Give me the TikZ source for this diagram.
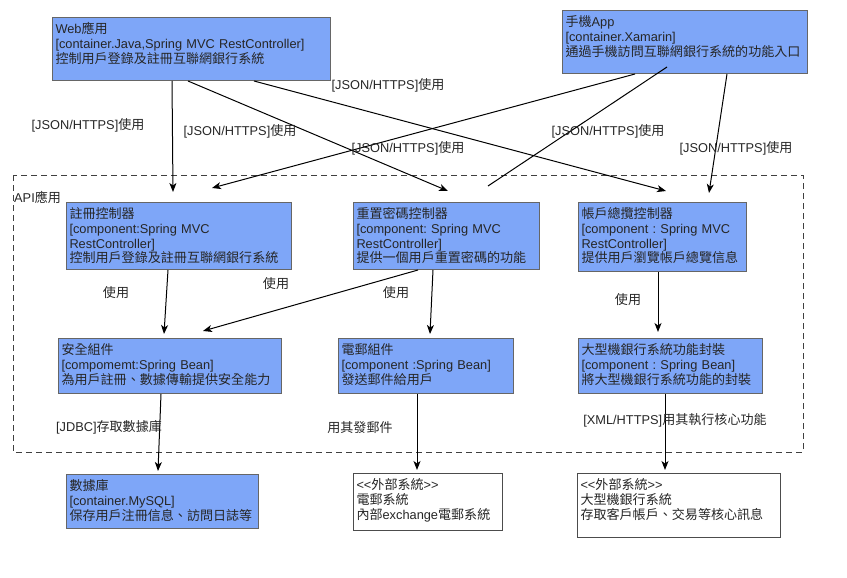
\documentclass[tikz,border=0pt]{standalone}
\usepackage{fontspec}
\setmainfont{Liberation Sans}
\newfontfamily\cjk[Scale=1.02]{Noto Sans CJK TC}
\usetikzlibrary{arrows.meta}
\frenchspacing
\newcommand{\zh}[1]{{\cjk #1}}
\definecolor{compblue}{RGB}{126,166,248}
\definecolor{boxgray}{RGB}{102,102,102}

\tikzset{
  box/.style={draw=boxgray, line width=1pt, anchor=north west, align=left,
    inner xsep=3pt, inner ysep=5pt, text height=11pt, text=black!85,
    font=\fontsize{12.8}{14.8}\selectfont},
  comp/.style={box, fill=compblue},
  ext/.style={box, fill=white, draw=black!70},
  use/.style={-{Stealth[length=9pt,width=7pt,inset=2.5pt]}, black, line width=1pt},
  lbl/.style={inner sep=0pt, text=black!85, font=\fontsize{12.8}{14.8}\selectfont}
}

\begin{document}
\begin{tikzpicture}[x=1pt,y=-1pt]
  \useasboundingbox (0,0) rectangle (847,578);

  % API boundary
  \draw[black!75, line width=1pt, dash pattern=on 6pt off 4pt] (13,175) rectangle (803,452);
  \node[lbl, anchor=west] (api) at (14,197) {API\zh{應用}};

  % containers
  \node[comp, text width=272pt, text depth=42pt] (web) at (52,17)
    {Web\zh{應用}\\{}[container.Java,Spring MVC RestController]\\\zh{控制用戶登錄及註冊互聯網銀行系統}};
  \node[comp, text width=239pt, text depth=42pt] (app) at (562,10)
    {\zh{手機}App\\{}[container.Xamarin]\\\zh{通過手機訪問互聯網銀行系統的功能入口}};

  % controllers
  \node[comp, text width=219pt, text depth=46pt] (reg) at (66,202)
    {\zh{註冊控制器}\\{}[component:Spring MVC\\RestController]\\\zh{控制用戶登錄及註冊互聯網銀行系統}};
  \node[comp, text width=180pt, text depth=46pt] (rst) at (353,202)
    {\zh{重置密碼控制器}\\{}[component: Spring MVC\\RestController]\\\zh{提供一個用戶重置密碼的功能}};
  \node[comp, text width=162pt, text depth=48pt] (acc) at (578,202)
    {\zh{帳戶總攬控制器}\\{}[component : Spring MVC\\RestController]\\\zh{提供用戶瀏覽帳戶總覽信息}};

  % components
  \node[comp, text width=217pt, text depth=34pt] (sec) at (58,338)
    {\zh{安全組件}\\{}[compomemt:Spring Bean]\\\zh{為用戶註冊、數據傳輸提供安全能力}};
  \node[comp, text width=169pt, text depth=34pt] (mail) at (338,338)
    {\zh{電郵組件}\\{}[component :Spring Bean]\\\zh{發送郵件給用戶}};
  \node[comp, text width=178pt, text depth=34pt] (main) at (578,338)
    {\zh{大型機銀行系統功能封裝}\\{}[component : Spring Bean]\\\zh{將大型機銀行系統功能的封裝}};

  % outside
  \node[comp, text width=186pt, text depth=33pt] (db) at (66,474)
    {\zh{數據庫}\\{}[container.MySQL]\\\zh{保存用戶注冊信息、訪問日誌等}};
  \node[ext, text width=143pt, text depth=36pt] (mailsys) at (353,473)
    {<{}<\zh{外部系統}>{}>\\\zh{電郵系統}\\\zh{內部}exchange\zh{電郵系統}};
  \node[ext, text width=197pt, text depth=43pt] (bank) at (577,473)
    {<{}<\zh{外部系統}>{}>\\\zh{大型機銀行系統}\\\zh{存取客戶帳戶、交易等核心訊息}};

  % web / app -> controllers
  \draw[use] ([xshift=120pt]web.south west) -- ([xshift=107pt,yshift=10pt]reg.north west);
  \draw[use] ([xshift=136pt]web.south west) -- ([xshift=95pt,yshift=11pt]rst.north west);
  \draw[use] ([xshift=202pt]web.south west) -- ([xshift=88pt,yshift=11pt]acc.north west);
  \draw[use] ([xshift=73pt]app.south west) -- ([xshift=146pt,yshift=14pt]reg.north west);
  \draw[black, line width=1pt] ([xshift=105pt,yshift=7pt]app.south west) -- ([xshift=135pt,yshift=16pt]rst.north west);
  \draw[use] ([xshift=165pt]app.south west) -- ([xshift=131pt,yshift=9pt]acc.north west);

  \node[lbl] (l1) at (88,125) {[JSON/HTTPS]\zh{使用}};
  \node[lbl] (l2) at (240,131) {[JSON/HTTPS]\zh{使用}};
  \node[lbl] (l3) at (388,85) {[JSON/HTTPS]\zh{使用}};
  \node[lbl] (l4) at (408,148) {[JSON/HTTPS]\zh{使用}};
  \node[lbl] (l5) at (608,131) {[JSON/HTTPS]\zh{使用}};
  \node[lbl] (l6) at (736,148) {[JSON/HTTPS]\zh{使用}};

  % controllers -> components
  \draw[use] ([xshift=102pt]reg.south west) -- ([xshift=106pt,yshift=4pt]sec.north west);
  \draw[use] ([xshift=65pt]rst.south west) -- ([xshift=145pt,yshift=7pt]sec.north west);
  \draw[use] ([xshift=80pt]rst.south west) -- ([xshift=92pt,yshift=4pt]mail.north west);
  \draw[use] ([xshift=80pt]acc.south west) -- ([xshift=80pt,yshift=6pt]main.north west);

  \node[lbl] (u1) at (116,293) {\zh{使用}};
  \node[lbl] (u2) at (276,284) {\zh{使用}};
  \node[lbl] (u3) at (396,293) {\zh{使用}};
  \node[lbl] (u4) at (628,300) {\zh{使用}};

  % components -> outside
  \draw[use] ([xshift=103pt]sec.south west) -- ([xshift=92pt,yshift=3pt]db.north west);
  \draw[use] ([xshift=79pt]mail.south west) -- ([xshift=64pt,yshift=3pt]mailsys.north west);
  \draw[use] ([xshift=87pt]main.south west) -- ([xshift=88pt,yshift=3pt]bank.north west);

  \node[lbl] (b1) at (109,427) {[JDBC]\zh{存取數據庫}};
  \node[lbl] (b2) at (360,428) {\zh{用其發郵件}};
  \node[lbl] (b3) at (675,420) {[XML/HTTPS]\zh{用其執行核心功能}};
\end{tikzpicture}
\end{document}
